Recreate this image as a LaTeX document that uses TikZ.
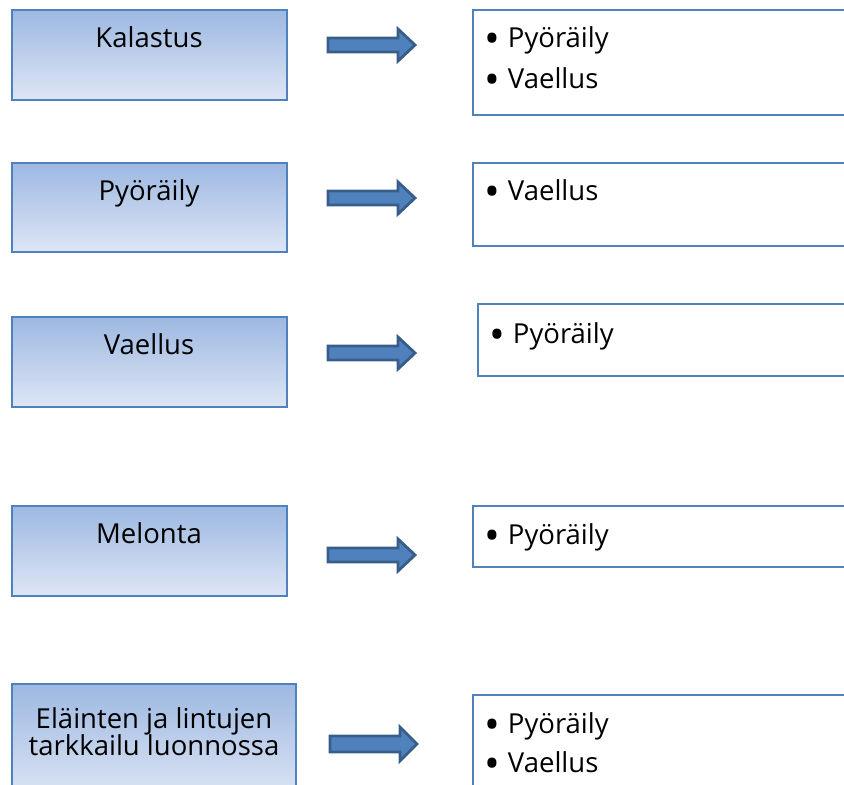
\documentclass[tikz,border=0pt]{standalone}
\usepackage{fontspec}
\setmainfont{Open Sans}
\usetikzlibrary{calc}
\definecolor{boxblue}{RGB}{79,129,189}
\definecolor{gradtop}{RGB}{157,184,226}
\definecolor{gradbot}{RGB}{222,230,244}
\definecolor{arrowdark}{RGB}{56,93,138}
\definecolor{arrowfill}{RGB}{79,129,189}
\newcommand\bigbul{\smash{\fontsize{42}{42}\selectfont\raisebox{-6pt}{•}}\hspace{8pt}}
\begin{document}
\begin{tikzpicture}[x=1pt,y=-1pt,
  leftbox/.style={draw=boxblue, line width=1.3pt, top color=gradtop, bottom color=gradbot},
  rightbox/.style={draw=boxblue, line width=1.3pt, fill=white},
  ltext/.style={font=\fontsize{27.5}{30}\selectfont, anchor=base, inner sep=0pt, align=center},
  rtext/.style={font=\fontsize{27.5}{30}\selectfont, anchor=base west, inner sep=0pt},
  blockarrow/.style={draw=arrowdark, line width=2.8pt, fill=arrowfill, line join=miter}
]
\useasboundingbox (0,0) rectangle (844,785);
\clip (0,0) rectangle (844,785);

% Row 1
\path[leftbox] (12,10) rectangle (287,100);
\node[ltext] (l1) at (149,47) {Kalastus};
\path[rightbox] (473,10) rectangle (870,115);
\node[rtext] (r1a) at (484,47) {\bigbul Pyöräily};
\node[rtext] (r1b) at (484,88) {\bigbul Vaellus};
\coordinate (a1) at (328,45);
\draw[blockarrow] ($(a1)+(0,-7)$) -- ++(70,0) -- ++(0,-9) -- ($(a1)+(87,0)$) -- ($(a1)+(70,16)$) -- ++(0,-9) -- ($(a1)+(0,7)$) -- cycle;

% Row 2
\path[leftbox] (12,163) rectangle (287,252);
\node[ltext] (l2) at (149,200) {Pyöräily};
\path[rightbox] (473,163) rectangle (870,246);
\node[rtext] (r2a) at (484,200) {\bigbul Vaellus};
\coordinate (a2) at (328,198);
\draw[blockarrow] ($(a2)+(0,-7)$) -- ++(70,0) -- ++(0,-9) -- ($(a2)+(87,0)$) -- ($(a2)+(70,16)$) -- ++(0,-9) -- ($(a2)+(0,7)$) -- cycle;

% Row 3
\path[leftbox] (12,317) rectangle (287,407);
\node[ltext] (l3) at (149,354) {Vaellus};
\path[rightbox] (478,304) rectangle (870,376);
\node[rtext] (r3a) at (489,343) {\bigbul Pyöräily};
\coordinate (a3) at (328,353);
\draw[blockarrow] ($(a3)+(0,-7)$) -- ++(70,0) -- ++(0,-9) -- ($(a3)+(87,0)$) -- ($(a3)+(70,16)$) -- ++(0,-9) -- ($(a3)+(0,7)$) -- cycle;

% Row 4
\path[leftbox] (12,506) rectangle (287,596);
\node[ltext] (l4) at (149,543) {Melonta};
\path[rightbox] (473,506) rectangle (870,567);
\node[rtext] (r4a) at (484,544) {\bigbul Pyöräily};
\coordinate (a4) at (328,555);
\draw[blockarrow] ($(a4)+(0,-7)$) -- ++(70,0) -- ++(0,-9) -- ($(a4)+(87,0)$) -- ($(a4)+(70,16)$) -- ++(0,-9) -- ($(a4)+(0,7)$) -- cycle;

% Row 5
\path[leftbox] (12,684) rectangle (296,800);
\node[ltext] (l5a) at (154,728) {Eläinten ja lintujen};
\node[ltext] (l5b) at (154,755) {tarkkailu luonnossa};
\path[rightbox] (473,695) rectangle (870,800);
\node[rtext] (r5a) at (484,733) {\bigbul Pyöräily};
\node[rtext] (r5b) at (484,772) {\bigbul Vaellus};
\coordinate (a5) at (330,744);
\draw[blockarrow] ($(a5)+(0,-8)$) -- ++(70,0) -- ++(0,-9) -- ($(a5)+(87,0)$) -- ($(a5)+(70,17)$) -- ++(0,-9) -- ($(a5)+(0,8)$) -- cycle;
\end{tikzpicture}
\end{document}
